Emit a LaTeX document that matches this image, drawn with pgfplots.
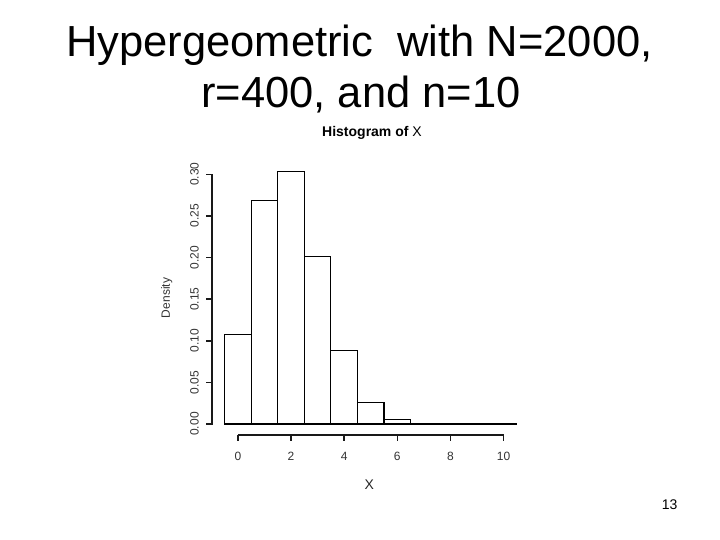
\documentclass[border=0pt]{standalone}
\usepackage{pgfplots}
\pgfplotsset{compat=1.18}
\usepackage{fontspec}
\setmainfont{Liberation Sans}
\begin{document}
\begin{tikzpicture}
\useasboundingbox (0bp,0bp) rectangle (720bp,540bp);
% slide title
\node[anchor=base,inner sep=0pt] at (359.5bp,483.3bp) {\fontsize{43.5bp}{52bp}\selectfont Hypergeometric\ \ with N=2000,};
\node[anchor=base,inner sep=0pt] at (361bp,432.7bp) {\fontsize{43.5bp}{52bp}\selectfont r=400, and n=10};
% page number
\node[anchor=base,inner sep=0pt] at (669.7bp,30.7bp) {\fontsize{14bp}{16bp}\selectfont 13};
\begin{axis}[
  at={(224.6bp,116bp)}, anchor=south west,
  scale only axis, width=292.3bp, height=249.7bp,
  xmin=-0.5, xmax=10.5, ymin=0, ymax=0.3,
  hide axis, clip=false,
]
\addplot[ybar interval, fill=white, draw=black, line width=1.1bp] coordinates {
 (-0.5,0.1070) (0.5,0.2690) (1.5,0.3035) (2.5,0.2015) (3.5,0.0880)
 (4.5,0.0262) (5.5,0.0056) (6.5,0.0008) (7.5,0) (8.5,0) (9.5,0) (10.5,0)
};
\draw[line width=1.1bp, black] (axis cs:-0.5,0) -- (axis cs:10.5,0);
% y axis
\fill[black!90] ([xshift=-13.4bp,yshift=-0.75bp]axis cs:-0.5,0) rectangle ([xshift=-11.4bp,yshift=0.75bp]axis cs:-0.5,0.3);
\begin{scope}[line width=1.5bp, black!90]
\draw ([xshift=-12.4bp]axis cs:-0.5,0)    -- ++(-6bp,0bp);
\draw ([xshift=-12.4bp]axis cs:-0.5,0.05) -- ++(-6bp,0bp);
\draw ([xshift=-12.4bp]axis cs:-0.5,0.10) -- ++(-6bp,0bp);
\draw ([xshift=-12.4bp]axis cs:-0.5,0.15) -- ++(-6bp,0bp);
\draw ([xshift=-12.4bp]axis cs:-0.5,0.20) -- ++(-6bp,0bp);
\draw ([xshift=-12.4bp]axis cs:-0.5,0.25) -- ++(-6bp,0bp);
\draw ([xshift=-12.4bp]axis cs:-0.5,0.30) -- ++(-6bp,0bp);
\end{scope}
\begin{scope}[every node/.style={rotate=90, inner sep=0pt, text=black!80, font=\fontsize{12bp}{14bp}\selectfont}]
\node at ([xshift=-30bp]axis cs:-0.5,0)    {0.00};
\node at ([xshift=-30bp]axis cs:-0.5,0.05) {0.05};
\node at ([xshift=-30bp]axis cs:-0.5,0.10) {0.10};
\node at ([xshift=-30bp]axis cs:-0.5,0.15) {0.15};
\node at ([xshift=-30bp]axis cs:-0.5,0.20) {0.20};
\node at ([xshift=-30bp]axis cs:-0.5,0.25) {0.25};
\node at ([xshift=-30bp]axis cs:-0.5,0.30) {0.30};
\end{scope}
% x axis
\begin{scope}[line width=1.5bp, black!90]
\draw ([yshift=-11bp]axis cs:0,0) -- ([yshift=-11bp]axis cs:10,0);
\draw ([yshift=-11bp]axis cs:0,0)  -- ++(0bp,-6bp);
\draw ([yshift=-11bp]axis cs:2,0)  -- ++(0bp,-6bp);
\draw ([yshift=-11bp]axis cs:4,0)  -- ++(0bp,-6bp);
\draw ([yshift=-11bp]axis cs:6,0)  -- ++(0bp,-6bp);
\draw ([yshift=-11bp]axis cs:8,0)  -- ++(0bp,-6bp);
\draw ([yshift=-11bp]axis cs:10,0) -- ++(0bp,-6bp);
\end{scope}
\begin{scope}[every node/.style={inner sep=0pt, text=black!80, font=\fontsize{12bp}{14bp}\selectfont}]
\node at ([yshift=-32bp]axis cs:0,0)  {0};
\node at ([yshift=-32bp]axis cs:2,0)  {2};
\node at ([yshift=-32bp]axis cs:4,0)  {4};
\node at ([yshift=-32bp]axis cs:6,0)  {6};
\node at ([yshift=-32bp]axis cs:8,0)  {8};
\node at ([yshift=-32bp]axis cs:10,0) {10};
\end{scope}
\end{axis}
% axis titles
\node[inner sep=0pt, text=black!85] at (369.3bp,55bp) {\fontsize{14bp}{16bp}\selectfont X};
\node[inner sep=0pt, rotate=90, text=black!80] at (166.7bp,242bp) {\fontsize{12bp}{14bp}\selectfont Density};
\node[inner sep=0pt] at (372bp,407bp) {\fontsize{14bp}{16bp}\selectfont\textbf{Histogram of} X};
\end{tikzpicture}
\end{document}
